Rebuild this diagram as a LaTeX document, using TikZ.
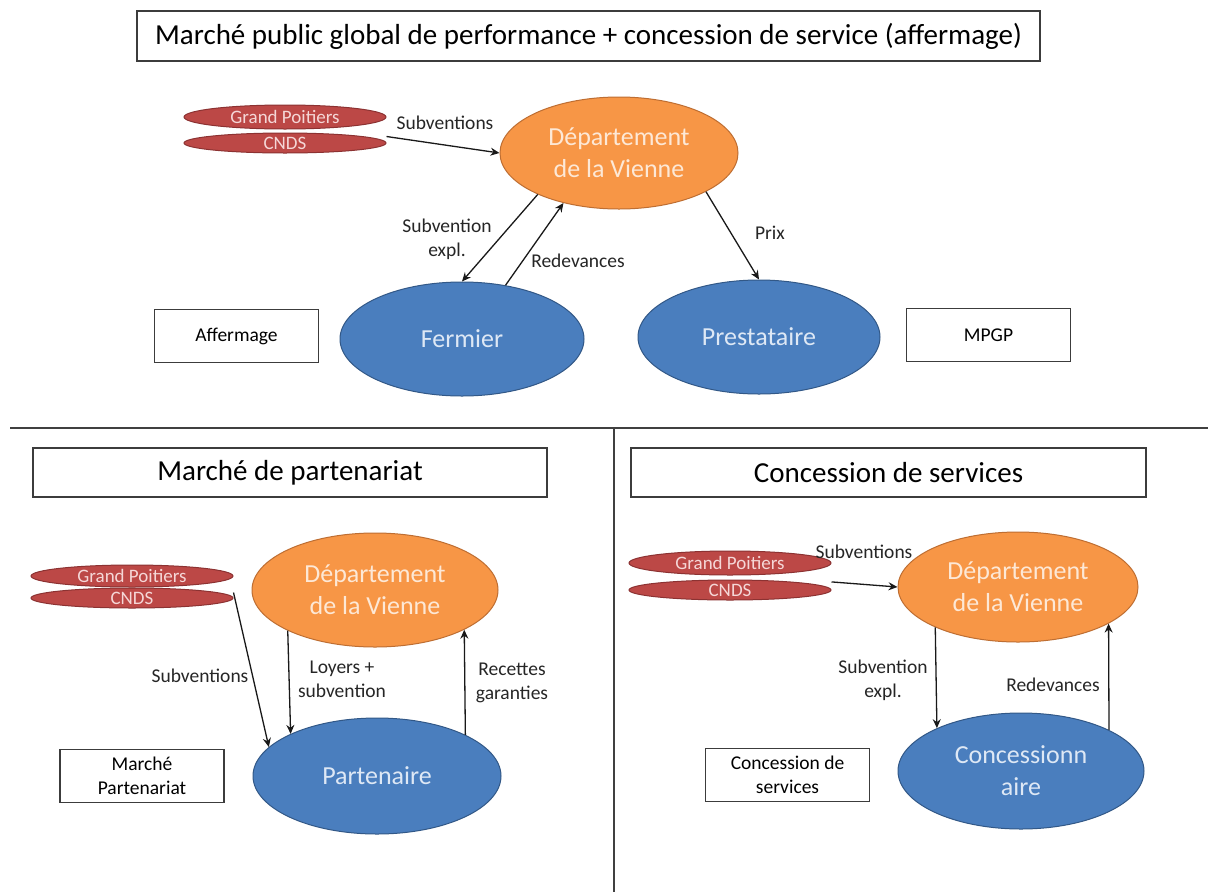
\documentclass[tikz,border=0pt]{standalone}
\usepackage{fontspec}
\setmainfont{Carlito}
\usetikzlibrary{shapes.geometric,arrows.meta,calc}
\definecolor{redfill}{RGB}{188,72,70}
\definecolor{redline}{RGB}{140,50,50}
\definecolor{redtext}{RGB}{245,215,215}
\definecolor{orfill}{RGB}{247,150,70}
\definecolor{orline}{RGB}{190,110,50}
\definecolor{ortext}{RGB}{253,232,214}
\definecolor{blfill}{RGB}{74,126,190}
\definecolor{blline}{RGB}{50,88,135}
\definecolor{bltext}{RGB}{222,232,245}
\definecolor{boxline}{RGB}{60,60,60}
\begin{document}
\begin{tikzpicture}[x=1pt,y=-1pt,
  lab/.style={font=\fontsize{19.5}{24}\selectfont, align=center, inner sep=0pt, text=black!85},
  redell/.style={ellipse, draw=redline, line width=1pt, fill=redfill, text=redtext, inner sep=0pt, minimum width=202pt, font=\fontsize{19}{22}\selectfont},
  orell/.style={ellipse, draw=orline, line width=1pt, fill=orfill, text=ortext, inner sep=0pt, align=center, font=\fontsize{26}{32}\selectfont},
  blell/.style={ellipse, draw=blline, line width=1pt, fill=blfill, text=bltext, inner sep=0pt, align=center, font=\fontsize{26}{32}\selectfont},
  titlebox/.style={draw=boxline, line width=1.6pt, fill=white, inner sep=0pt, font=\fontsize{29}{34}\selectfont},
  smallbox/.style={draw=boxline, line width=1.3pt, fill=white, inner sep=0pt, align=center, minimum width=164pt, minimum height=53pt, font=\fontsize{19.5}{24}\selectfont},
  arr/.style={draw=black!90, line width=1.3pt, -{Stealth[length=9pt,width=8pt,inset=3pt]}},
  divider/.style={draw=black!75, line width=1.4pt}
]
\useasboundingbox (0,0) rectangle (1208,892);
\fill[white] (0,0) rectangle (1208,892);

% dividers
\draw[divider] (10,428) -- (1208,428);
\draw[divider] (614,428) -- (614,892);

% ---------- top section ----------
\node[titlebox, minimum width=903pt, minimum height=50pt] (t1) at (588.5,36) {Marché public global de performance + concession de service (affermage)};

\node[redell, minimum height=20pt] (cnds1) at (285,143) {CNDS};
\node[redell, minimum height=24pt] (gp1) at (285,117) {Grand Poitiers};
\coordinate (j1) at ($(gp1.east)!0.75!(cnds1.east)$);

\node[orell, minimum width=238pt, minimum height=112pt] (dep1) at (619,153) {Département\\de la Vienne};
\node[blell, minimum width=244pt, minimum height=114pt] (ferm) at (462,339) {Fermier};
\node[blell, minimum width=242pt, minimum height=114pt] (prest) at (759,337) {Prestataire};

\node[smallbox] (aff) at (236.5,336) {Affermage};
\node[smallbox] (mpgp) at (988.5,335) {MPGP};

\draw[arr] (j1) -- (dep1.west);
\draw[arr] (dep1.207) -- (ferm.north);
\draw[arr] (ferm.51.7) -- (dep1.222);
\draw[arr] (dep1.336) -- (prest.north);

\node[lab] (l1) at (445,123) {Subventions};
\node[lab] (l2) at (447,239) {Subvention\\expl.};
\node[lab] (l3) at (578,261) {Redevances};
\node[lab] (l4) at (770,233) {Prix};

% ---------- bottom left ----------
\node[titlebox, minimum width=514pt, minimum height=49pt] (t2) at (290,472.5) {Marché de partenariat};

\node[redell, minimum height=20pt] (cnds2) at (132,598) {CNDS};
\node[redell, minimum height=22pt] (gp2) at (132,576) {Grand Poitiers};
\coordinate (j2) at ($(gp2.east)!0.75!(cnds2.east)$);

\node[orell, minimum width=246pt, minimum height=114pt] (dep2) at (375,590) {Département\\de la Vienne};
\node[blell, minimum width=248pt, minimum height=116pt] (part) at (377,776) {Partenaire};
\node[smallbox] (mp) at (142,776) {Marché\\Partenariat};

\draw[arr] (j2) -- (part.165);
\draw[arr] (dep2.205.9) -- (part.154.6);
\draw[arr] (part.25.4) -- (dep2.336.2);

\node[lab] (l5) at (200,676) {Subventions};
\node[lab] (l6) at (342,679) {Loyers +\\subvention};
\node[lab] (l7) at (512,683) {Recettes\\garanties};

% ---------- bottom right ----------
\node[titlebox, minimum width=515pt, minimum height=49pt] (t3) at (888.5,472.5) {Concession de services};

\node[redell, minimum height=20pt] (cnds3) at (730,590) {CNDS};
\node[redell, minimum height=24pt] (gp3) at (730,563) {Grand Poitiers};
\coordinate (j3) at ($(gp3.east)!0.7!(cnds3.east)$);

\node[orell, minimum width=240pt, minimum height=110pt] (dep3) at (1018,587) {Département\\de la Vienne};
\node[blell, minimum width=246pt, minimum height=116pt] (conc) at (1021,771) {Concessionn\\aire};
\node[smallbox] (cs) at (787.5,775) {Concession de\\services};

\draw[arr] (j3) -- (dep3.west);
\draw[arr] (dep3.206.1) -- (conc.153.8);
\draw[arr] (conc.25.2) -- (dep3.338);

\node[lab] (l8) at (864,552) {Subventions};
\node[lab] (l9) at (883,680) {Subvention\\expl.};
\node[lab] (l10) at (1053,685) {Redevances};
\end{tikzpicture}
\end{document}
